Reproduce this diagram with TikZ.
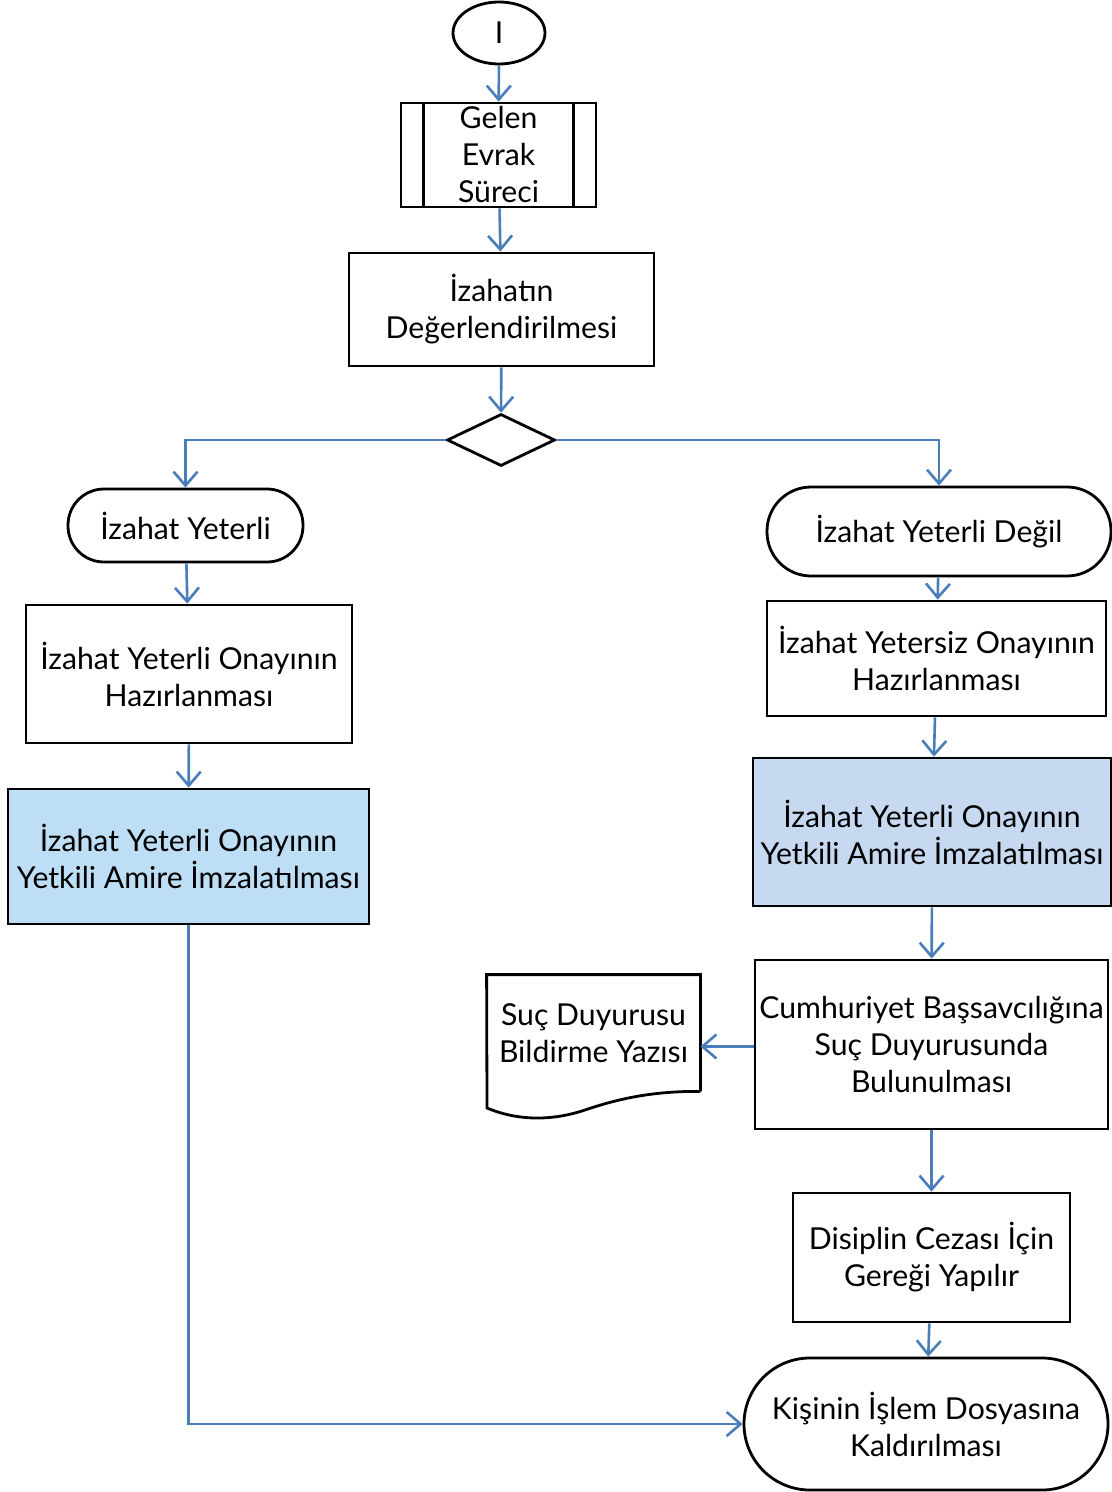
\documentclass[tikz,border=0pt]{standalone}
\usepackage{fontspec}
\setmainfont{Lato}
\usetikzlibrary{positioning,shapes.geometric,arrows.meta}
\definecolor{flowblue}{RGB}{74,126,187}
\definecolor{leftfill}{RGB}{189,222,245}
\definecolor{rightfill}{RGB}{198,217,240}

\begin{document}
\begin{tikzpicture}[
        x=0.5pt, y=-0.5pt,
        font=\fontsize{15.1}{18.5}\selectfont,
        % --- STYLE CHUNG ---
        box/.style={
            rectangle,
            draw=black,
            line width=1.4pt,
            align=center,
            inner sep=2pt
        },
        % Kutular (mavi dolgulu)
        box_left/.style={box, fill=leftfill},
        box_right/.style={box, fill=rightfill},
        % Baslangic / bitis
        terminal/.style={
            box,
            rounded corners=#1
        },
        % Karar
        decision/.style={
            diamond,
            draw=black,
            line width=1.4pt,
            inner sep=0pt,
            minimum width=54pt,
            minimum height=26pt
        },
        % Baglanti oklari
        flow/.style={
            draw=flowblue,
            line width=1.3pt,
            -{Straight Barb[length=7pt,width=12pt,line width=1.3pt]}
        }
    ]

        \useasboundingbox (0,0) rectangle (1112,1492);

        % --- UST KISIM ---
        \node[ellipse, draw=black, line width=1.4pt, minimum width=46pt, minimum height=31pt, inner sep=0pt]
            (start) at (499,33) {I};
        \node[box, minimum width=97.5pt, minimum height=52pt] (gelen) at (498.5,155) {};
        \node[align=center] at (498.5,155) {Gelen\\Evrak\\Süreci};
        \draw[line width=1.4pt] ([xshift=12pt]gelen.north west) -- ([xshift=12pt]gelen.south west);
        \draw[line width=1.4pt] ([xshift=-12pt]gelen.north east) -- ([xshift=-12pt]gelen.south east);
        \node[box, minimum width=152.5pt, minimum height=56.5pt] (deger) at (501.5,309.5)
            {İzahatın\\Değerlendirilmesi};
        \node[decision] (karar) at (501,440) {};

        % --- SOL KOL ---
        \node[terminal=18pt, minimum width=117.5pt, minimum height=36.5pt] (yeterli) at (185.5,525.5)
            {İzahat Yeterli};
        \node[box, minimum width=163pt, minimum height=69pt] (solhaz) at (189,674)
            {İzahat Yeterli Onayının\\Hazırlanması};
        \node[box_left, minimum width=180.5pt, minimum height=67.5pt] (solimza) at (188.5,856.5)
            {İzahat Yeterli Onayının\\Yetkili Amire İmzalatılması};

        % --- SAG KOL ---
        \node[terminal=22pt, minimum width=172pt, minimum height=44.5pt] (degil) at (939,531.5)
            {İzahat Yeterli Değil};
        \node[box, minimum width=169.5pt, minimum height=57.5pt] (saghaz) at (936.5,658.5)
            {İzahat Yetersiz Onayının\\Hazırlanması};
        \node[box_right, minimum width=179pt, minimum height=74pt] (sagimza) at (932,832)
            {İzahat Yeterli Onayının\\Yetkili Amire İmzalatılması};
        \node[box, minimum width=176.5pt, minimum height=84.5pt] (cumh) at (931.5,1044.5)
            {Cumhuriyet Başsavcılığına\\Suç Duyurusunda\\Bulunulması};
        \node[align=center, minimum width=106.5pt, minimum height=58pt, inner sep=0pt] (suc) at (593.5,1033)
            {Suç Duyurusu\\Bildirme Yazısı};
        \draw[line width=1.4pt] (suc.south east) -- (suc.north east) -- (suc.north west) -- (487,1108)
            .. controls (518,1121) and (552,1121) .. (585,1110)
            .. controls (620,1098) and (655,1091) .. (suc.south east);
        \node[box, minimum width=138.5pt, minimum height=64.5pt] (disiplin) at (931.5,1257.5)
            {Disiplin Cezası İçin\\Gereği Yapılır};
        \node[terminal=33pt, minimum width=182pt, minimum height=66pt] (kisinin) at (926,1424)
            {Kişinin İşlem Dosyasına\\Kaldırılması};

        % --- OKLAR ---
        \draw[flow] (start) -- (gelen);
        \draw[flow] (gelen) -- (deger);
        \draw[flow] (deger) -- (karar);
        \draw[flow] (karar.west) -| (yeterli.north);
        \draw[flow] (karar.east) -| (degil.north);
        \draw[flow] (yeterli) -- (solhaz);
        \draw[flow] (solhaz) -- (solimza);
        \draw[flow] (solimza.south) |- (kisinin.west);
        \draw[flow] (degil) -- (saghaz);
        \draw[flow] (saghaz) -- (sagimza);
        \draw[flow] (sagimza) -- (cumh);
        \draw[flow] ([yshift=-1pt]cumh.west) -- ([yshift=-1pt]cumh.west -| suc.east);
        \draw[flow] (cumh) -- (disiplin);
        \draw[flow] (disiplin) -- (kisinin);

    \end{tikzpicture}
\end{document}
